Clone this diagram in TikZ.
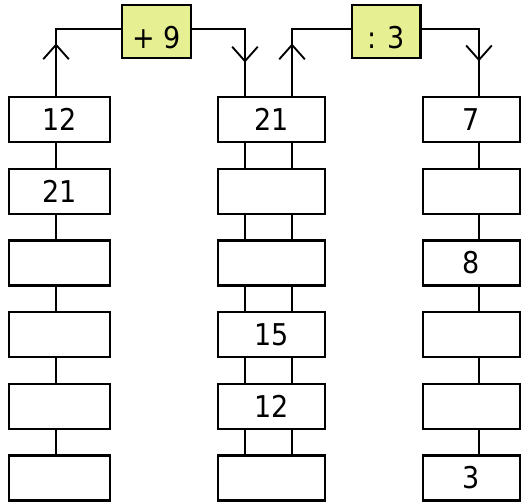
\documentclass[tikz,border=0pt]{standalone}
\usepackage{fontspec}
\setmainfont{DejaVu Sans Condensed}
\usepackage{tikz}
\usetikzlibrary{positioning,arrows.meta,decorations.markings}
\definecolor{opfill}{RGB}{230,239,145}

\begin{document}
\begin{tikzpicture}[node distance=18.2pt, auto,
    numbox/.style={rectangle, draw, line width=1.8pt, fill=white, minimum height=33.75pt, inner sep=0pt, font=\fontsize{22.5}{26}\selectfont},
    opbox/.style={rectangle, draw, line width=1.8pt, fill=opfill, minimum width=51.45pt, minimum height=39.45pt, inner sep=0pt, text height=25pt, text depth=0pt, font=\fontsize{22.5}{26}\selectfont},
    link/.style={line width=1.4pt},
    chevron/.style={postaction={decorate}, decoration={markings, mark=at position #1 with {\arrow{Straight Barb[length=10.8pt, width=19.2pt]}}}}]
    \useasboundingbox (0,0) rectangle (393.75pt,-375.75pt);

    % Left column
    \node (a1) [numbox, minimum width=75.45pt] at (44.625pt,-89.8pt) {12};
    \node (a2) [numbox, minimum width=75.45pt, below=of a1] {21};
    \node (a3) [numbox, minimum width=75.45pt, below=of a2] {};
    \node (a4) [numbox, minimum width=75.45pt, below=of a3] {};
    \node (a5) [numbox, minimum width=75.45pt, below=of a4] {};
    \node (a6) [numbox, minimum width=75.45pt, below=of a5] {};

    % Middle column
    \node (b1) [numbox, minimum width=79.95pt] at (203.625pt,-89.8pt) {21};
    \node (b2) [numbox, minimum width=79.95pt, below=of b1] {};
    \node (b3) [numbox, minimum width=79.95pt, below=of b2] {};
    \node (b4) [numbox, minimum width=79.95pt, below=of b3] {15};
    \node (b5) [numbox, minimum width=79.95pt, below=of b4] {12};
    \node (b6) [numbox, minimum width=79.95pt, below=of b5] {};

    % Right column
    \node (c1) [numbox, minimum width=72.45pt] at (353.625pt,-89.8pt) {7};
    \node (c2) [numbox, minimum width=72.45pt, below=of c1] {};
    \node (c3) [numbox, minimum width=72.45pt, below=of c2] {8};
    \node (c4) [numbox, minimum width=72.45pt, below=of c3] {};
    \node (c5) [numbox, minimum width=72.45pt, below=of c4] {};
    \node (c6) [numbox, minimum width=72.45pt, below=of c5] {3};

    % Operations
    \node (add) [opbox] at (117.375pt,-23.625pt) {+ 9};
    \node (div) [opbox] at (289.5pt,-23.625pt) {: 3};

    % Column links
    \draw [link] ([xshift=-2.6pt]a1.south) -- ([xshift=-2.6pt]a2.north);
    \draw [link] ([xshift=-2.6pt]a2.south) -- ([xshift=-2.6pt]a3.north);
    \draw [link] ([xshift=-2.6pt]a3.south) -- ([xshift=-2.6pt]a4.north);
    \draw [link] ([xshift=-2.6pt]a4.south) -- ([xshift=-2.6pt]a5.north);
    \draw [link] ([xshift=-2.6pt]a5.south) -- ([xshift=-2.6pt]a6.north);
    \draw [link] ([xshift=-19.9pt]b1.south) -- ([xshift=-19.9pt]b2.north);
    \draw [link] ([xshift=-19.9pt]b2.south) -- ([xshift=-19.9pt]b3.north);
    \draw [link] ([xshift=-19.9pt]b3.south) -- ([xshift=-19.9pt]b4.north);
    \draw [link] ([xshift=-19.9pt]b4.south) -- ([xshift=-19.9pt]b5.north);
    \draw [link] ([xshift=-19.9pt]b5.south) -- ([xshift=-19.9pt]b6.north);
    \draw [link] ([xshift=15.4pt]b1.south) -- ([xshift=15.4pt]b2.north);
    \draw [link] ([xshift=15.4pt]b2.south) -- ([xshift=15.4pt]b3.north);
    \draw [link] ([xshift=15.4pt]b3.south) -- ([xshift=15.4pt]b4.north);
    \draw [link] ([xshift=15.4pt]b4.south) -- ([xshift=15.4pt]b5.north);
    \draw [link] ([xshift=15.4pt]b5.south) -- ([xshift=15.4pt]b6.north);
    \draw [link] ([xshift=5.6pt]c1.south) -- ([xshift=5.6pt]c2.north);
    \draw [link] ([xshift=5.6pt]c2.south) -- ([xshift=5.6pt]c3.north);
    \draw [link] ([xshift=5.6pt]c3.south) -- ([xshift=5.6pt]c4.north);
    \draw [link] ([xshift=5.6pt]c4.south) -- ([xshift=5.6pt]c5.north);
    \draw [link] ([xshift=5.6pt]c5.south) -- ([xshift=5.6pt]c6.north);

    % Operation links
    \draw [link, chevron=0.40] ([xshift=-2.6pt]a1.north) |- ([yshift=1.6pt]add.west);
    \draw [link, chevron=0.72] ([yshift=1.6pt]add.east) -| ([xshift=-19.9pt]b1.north);
    \draw [link, chevron=0.42] ([xshift=15.4pt]b1.north) |- ([yshift=1.6pt]div.west);
    \draw [link, chevron=0.72] ([yshift=1.6pt]div.east) -| ([xshift=5.6pt]c1.north);
\end{tikzpicture}
\end{document}
